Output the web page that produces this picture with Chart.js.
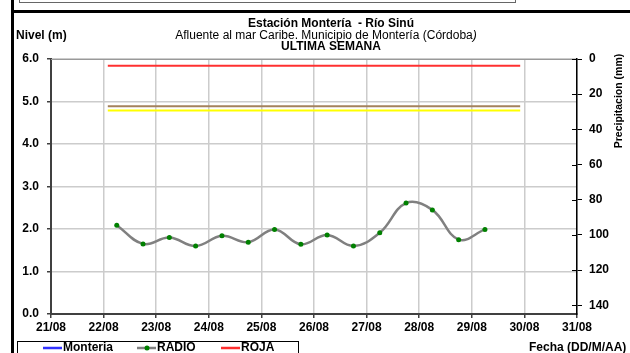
<!DOCTYPE html>
<html>
<head>
<meta charset="utf-8">
<script src="https://cdn.jsdelivr.net/npm/chart.js@4/dist/chart.umd.min.js"></script>
<style>
  html, body { margin: 0; padding: 0; background: #fff; }
  canvas { display: block; }
</style>
</head>
<body>
<canvas id="nivelChart" width="630" height="353"></canvas>
<script>
// days of month on the x axis (21/08 .. 31/08)
const dayTicks = [21, 22, 23, 24, 25, 26, 27, 28, 29, 30, 31];
const dateLabels = ["21/08", "22/08", "23/08", "24/08", "25/08", "26/08", "27/08", "28/08", "29/08", "30/08", "31/08"];
const levelTicks = [0, 1, 2, 3, 4, 5, 6];
const precipTicks = [0, 20, 40, 60, 80, 100, 120, 140];

// RADIO readings, x = day of month (fraction = hour of day)
const radioTimes = [22.25, 22.75, 23.25, 23.75, 24.25, 24.75, 25.25, 25.75, 26.25, 26.75, 27.25, 27.75, 28.25, 28.75, 29.25];
const radioLevels = [2.09, 1.65, 1.80, 1.60, 1.84, 1.69, 1.99, 1.64, 1.86, 1.60, 1.91, 2.61, 2.45, 1.75, 1.99];

// alert levels
const alertSpan = [22.08, 29.92];
const rojaLevel = 5.84;
const naranjaLevel = 4.89;
const amarillaLevel = 4.79;

const FONT = "'Liberation Sans', Arial, sans-serif";
Chart.defaults.font.family = FONT;
Chart.defaults.color = "#000";

function flatLine(level) {
    return alertSpan.map(x => ({ x, y: level }));
}

const decor = {
    id: "decor",
    beforeDraw(chart) {
        const ctx = chart.ctx;
        ctx.save();
        ctx.fillStyle = "#fff";
        ctx.fillRect(0, 0, chart.width, chart.height);
        ctx.restore();
    },
    afterDraw(chart) {
        const ctx = chart.ctx;
        const area = chart.chartArea;
        ctx.save();

        // frame pieces
        ctx.fillStyle = "#000";
        ctx.fillRect(11, 0, 3, chart.height);
        ctx.fillRect(11, 10, chart.width - 11, 3);
        ctx.strokeStyle = "#666";
        ctx.lineWidth = 1;
        ctx.strokeRect(19.5, -10, 496, 12.5);

        // top border of the plot
        ctx.strokeStyle = "#999";
        ctx.beginPath();
        ctx.moveTo(area.left, area.top + 0.5);
        ctx.lineTo(area.right, area.top + 0.5);
        ctx.stroke();

        // inner half of the precipitation ticks
        const y2 = chart.scales.y2;
        ctx.strokeStyle = "#000";
        ctx.lineWidth = 1;
        precipTicks.forEach(v => {
            const py = Math.round(y2.getPixelForValue(v)) + 0.5;
            ctx.beginPath();
            ctx.moveTo(area.right - 5, py);
            ctx.lineTo(area.right, py);
            ctx.stroke();
        });

        // titles
        ctx.textBaseline = "middle";
        ctx.textAlign = "center";
        ctx.font = "bold 12px " + FONT;
        ctx.fillText("Estación Montería  - Río Sinú", 331, 24);
        ctx.fillText("ULTIMA SEMANA", 331, 47);
        ctx.font = "12px " + FONT;
        const sub = "Afluente al mar Caribe. Municipio de Montería (Córdoba";
        const subW = ctx.measureText(sub).width;
        ctx.textAlign = "left";
        const subX = 324 - subW / 2;
        ctx.fillText(sub, subX, 36);
        ctx.font = "italic 12px " + FONT;
        ctx.fillText(")", subX + subW, 36);

        ctx.font = "bold 12px " + FONT;
        ctx.fillText("Nivel (m)", 16, 36);
        ctx.fillText("Fecha (DD/M/AA)", 529, 348);

        // right axis title, reading upward
        ctx.save();
        ctx.translate(619, 101);
        ctx.rotate(-Math.PI / 2);
        ctx.textAlign = "center";
        ctx.font = "bold 10.5px " + FONT;
        ctx.fillText("Precipitacion (mm)", 0, 0);
        ctx.restore();

        // legend box
        ctx.strokeStyle = "#000";
        ctx.lineWidth = 1;
        ctx.strokeRect(17.5, 341.5, 281, 20);
        const legendX = [43, 137, 221];
        chart.data.datasets.slice(0, 3).forEach((ds, i) => {
            const lx = legendX[i];
            const ly = 348;
            ctx.strokeStyle = ds.borderColor;
            ctx.lineWidth = 2.5;
            ctx.beginPath();
            ctx.moveTo(lx, ly);
            ctx.lineTo(lx + 19, ly);
            ctx.stroke();
            if (ds.pointRadius > 0) {
                ctx.fillStyle = ds.pointBackgroundColor;
                ctx.beginPath();
                ctx.arc(lx + 10, ly, 2.5, 0, Math.PI * 2);
                ctx.fill();
            }
            ctx.fillStyle = "#000";
            ctx.textAlign = "left";
            ctx.font = "bold 12px " + FONT;
            ctx.fillText(ds.label, lx + 20, ly);
        });

        ctx.restore();
    }
};

new Chart(document.getElementById("nivelChart"), {
    type: "line",
    data: {
        datasets: [
            {
                label: "Monteria",
                data: [],
                borderColor: "#3333ff",
                pointRadius: 0
            },
            {
                label: "RADIO",
                data: radioTimes.map((x, i) => ({ x, y: radioLevels[i] })),
                borderColor: "#808080",
                borderWidth: 2.5,
                tension: 0.4,
                pointRadius: 2.5,
                pointBackgroundColor: "#008000",
                pointBorderColor: "#008000",
                pointBorderWidth: 0
            },
            {
                label: "ROJA",
                data: flatLine(rojaLevel),
                borderColor: "#ff3030",
                borderWidth: 2,
                pointRadius: 0
            },
            {
                label: "NARANJA",
                data: flatLine(naranjaLevel),
                borderColor: "#a4825c",
                borderWidth: 2,
                pointRadius: 0
            },
            {
                label: "AMARILLA",
                data: flatLine(amarillaLevel),
                borderColor: "#ffff00",
                borderWidth: 2,
                pointRadius: 0
            }
        ]
    },
    options: {
        responsive: false,
        animation: false,
        devicePixelRatio: 1,
        layout: { padding: { top: 59, left: 0, right: 0, bottom: 0 } },
        plugins: {
            legend: { display: false },
            tooltip: { enabled: false }
        },
        scales: {
            x: {
                type: "linear",
                min: dayTicks[0],
                max: dayTicks[dayTicks.length - 1],
                afterBuildTicks: s => { s.ticks = dayTicks.map(v => ({ value: v })); },
                afterFit: s => { s.height = 39; },
                ticks: {
                    callback: (v, i) => dateLabels[i],
                    font: { size: 12, weight: "bold" },
                    padding: 2,
                    maxRotation: 0,
                    autoSkip: false
                },
                grid: { color: "#cccccc", lineWidth: 1.5, tickLength: 4, tickColor: "#404040" },
                border: { color: "#404040", width: 2 }
            },
            y: {
                position: "left",
                min: 0,
                max: 6,
                afterBuildTicks: s => { s.ticks = levelTicks.map(v => ({ value: v })); },
                afterFit: s => { s.width = 51; },
                ticks: {
                    callback: v => v.toFixed(1),
                    font: { size: 12, weight: "bold" },
                    padding: 8
                },
                grid: { color: "#cccccc", lineWidth: 1.5, tickLength: 4, tickColor: "#404040" },
                border: { color: "#404040", width: 2 }
            },
            y2: {
                position: "right",
                reverse: true,
                min: 0,
                max: 145,
                afterBuildTicks: s => { s.ticks = precipTicks.map(v => ({ value: v })); },
                afterFit: s => { s.width = 53; },
                ticks: {
                    font: { size: 12, weight: "bold" },
                    padding: 7
                },
                grid: { drawOnChartArea: false, tickLength: 5, tickColor: "#000" },
                border: { color: "#000", width: 1.5 }
            }
        }
    },
    plugins: [decor]
});
</script>
</body>
</html>
